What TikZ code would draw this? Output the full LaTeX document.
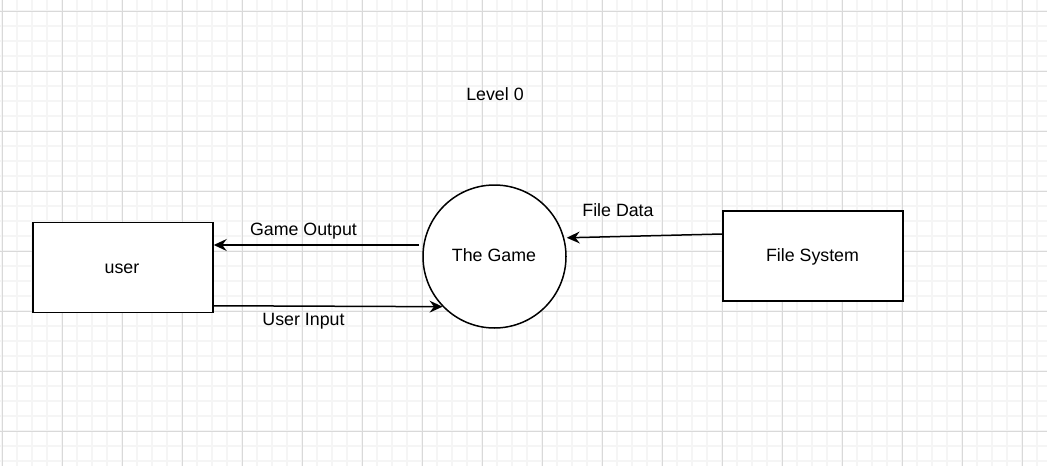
\documentclass[tikz,border=0pt]{standalone}
\usepackage{fontspec}
\setmainfont{Liberation Sans}
\usetikzlibrary{arrows.meta,calc}
\begin{document}
\begin{tikzpicture}[x=1pt,y=-1pt,
  font=\fontsize{17.8}{21}\selectfont,
  minorgrid/.style={draw=black!4,line width=1.3pt},
  majorgrid/.style={draw=black!15,line width=1pt},
  procbox/.style={draw=black,line width=1.5pt,fill=white,minimum width=180pt,minimum height=90pt,inner sep=0pt},
  procircle/.style={circle,draw=black,line width=1.5pt,fill=white,minimum size=143pt,inner sep=0pt},
  lbl/.style={anchor=base,inner sep=0pt},
  flow/.style={draw=black,line width=1.5pt,-{Stealth[length=13pt,width=12pt,inset=4.5pt]}}
]
\useasboundingbox (0,0) rectangle (1047,466);
\fill[white] (0,0) rectangle (1047,466);
\begin{scope}
  \clip (0,0) rectangle (1047,466);
  \foreach \x in {2,17,...,1050} \draw[minorgrid] (\x,0) -- (\x,466);
  \foreach \y in {-4,11,...,470} \draw[minorgrid] (0,\y) -- (1047,\y);
  \foreach \x in {2,62,...,1050} \draw[majorgrid] (\x,0) -- (\x,466);
  \foreach \y in {11,71,...,470} \draw[majorgrid] (0,\y) -- (1047,\y);
\end{scope}

\node[procbox] (user) at (123,267.5) {};
\node[procircle] (game) at (494.5,256.5) {};
\node[procbox] (fs) at (813,256) {};

\node[lbl] (userlbl) at (122,273.3) {user};
\node[lbl] (gamelbl) at (494,261.7) {The Game};
\node[lbl] (fslbl) at (812.5,261.7) {File System};
\node[lbl] (title) at (495,100.7) {Level 0};

\coordinate (gostart) at (419,245);
\draw[flow] (gostart) -- (user.east |- gostart);
\draw[flow] ($(user.south east)+(0,-7.5)$) -- (game.224);
\draw[flow] ($(fs.west)+(0,-22)$) -- ($(game.15)+(2.5,0)$);

\node[lbl] (golbl) at (303.5,235) {Game Output};
\node[lbl] (uilbl) at (303.5,325) {User Input};
\node[lbl] (fdlbl) at (618,216.7) {File Data};
\end{tikzpicture}
\end{document}
